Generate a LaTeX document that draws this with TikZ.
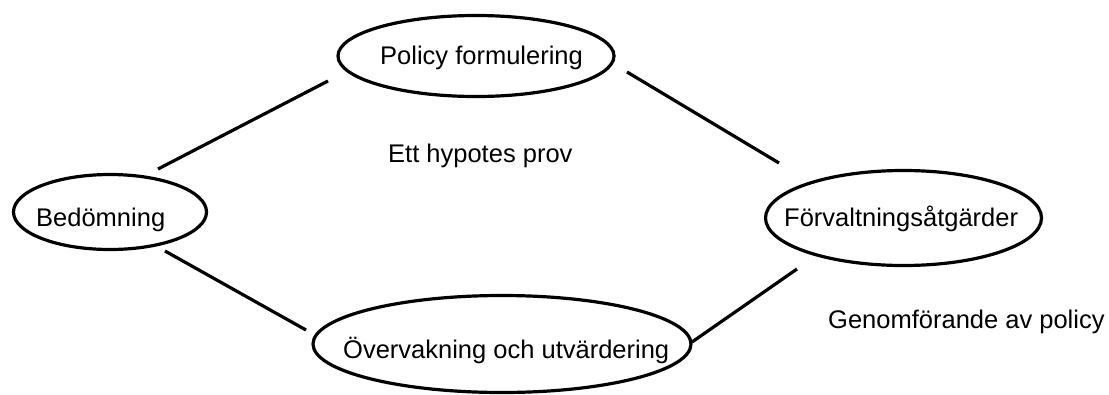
\documentclass[tikz,border=0pt]{standalone}
\usepackage{fontspec}
\setmainfont{Liberation Sans}
\usetikzlibrary{shapes.geometric}
\begin{document}
\begin{tikzpicture}[x=1pt,y=-1pt,
  stage/.style={ellipse, draw, line width=3.2pt, inner sep=0pt},
  caption/.style={anchor=base west, inner sep=0pt, font=\fontsize{25.5}{30}\selectfont},
  link/.style={line width=3.2pt}]
  \useasboundingbox (0,0) rectangle (1109,394);

  % cycle stages
  \node[stage, minimum width=193pt, minimum height=75pt] (bed) at (110,212) {};
  \node[stage, minimum width=276pt, minimum height=81pt] (pol) at (476,56) {};
  \node[stage, minimum width=276pt, minimum height=95pt] (forv) at (903.5,218) {};
  \node[stage, minimum width=378pt, minimum height=97pt] (over) at (502,344) {};

  % stage names
  \node[caption] (tbed) at (36,226) {Bedömning};
  \node[caption] (tpol) at (380,64) {Policy formulering};
  \node[caption] (tforv) at (784,226) {Förvaltningsåtgärder};
  \node[caption] (tover) at (343,358) {Övervakning och utvärdering};

  % free-standing notes
  \node[caption] (hyp) at (388,162) {Ett hypotes prov};
  \node[caption] (gen) at (828,328) {Genomförande av policy};

  % connector ends
  \coordinate (bp1) at (158,169);
  \coordinate (bp2) at (328,81);
  \coordinate (pf1) at (627,72);
  \coordinate (pf2) at (779,163);
  \coordinate (bo1) at (165,251);
  \coordinate (bo2) at (306,330);
  \coordinate (of1) at (692,342);
  \coordinate (of2) at (797,269);

  \draw[link] (bp1) -- (bp2);
  \draw[link] (pf1) -- (pf2);
  \draw[link] (bo1) -- (bo2);
  \draw[link] (of1) -- (of2);
\end{tikzpicture}
\end{document}
